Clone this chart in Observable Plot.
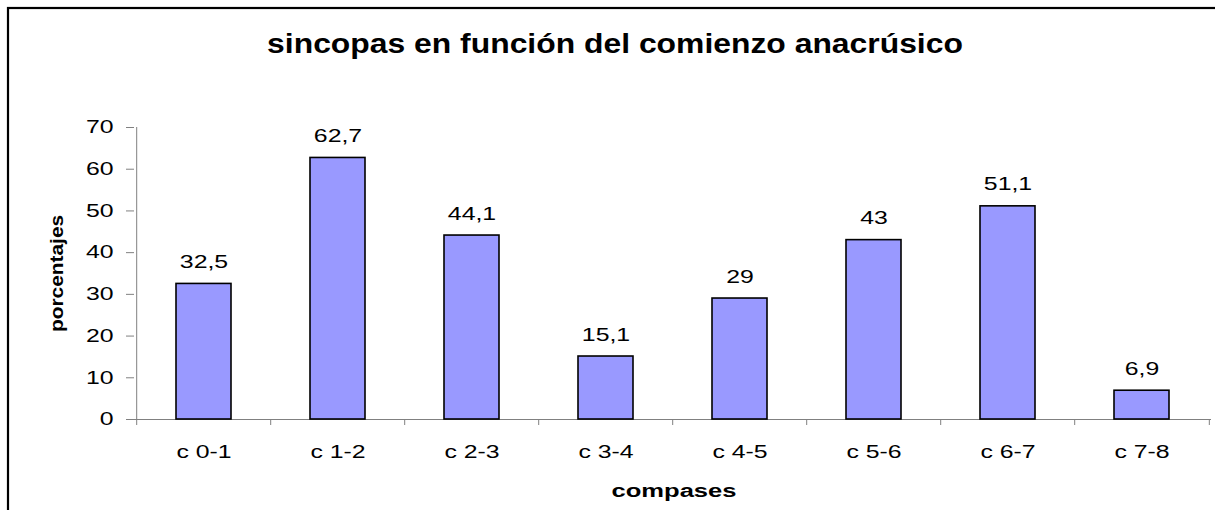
<!DOCTYPE html>
<html>
<head>
<meta charset="utf-8">
<script src="https://cdn.jsdelivr.net/npm/d3@7"></script>
<script src="https://cdn.jsdelivr.net/npm/@observablehq/plot@0.6"></script>
<style>
  html, body { margin: 0; padding: 0; background: #fff; }
  #chart { width: 1215px; height: 510px; overflow: hidden; }
  [aria-label="y-axis tick"] { stroke: #808080; }
</style>
</head>
<body>
<div id="chart"></div>
<script>
const categories = ["c 0-1", "c 1-2", "c 2-3", "c 3-4", "c 4-5", "c 5-6", "c 6-7", "c 7-8"];
const values = [32.5, 62.7, 44.1, 15.1, 29, 43, 51.1, 6.9];
const yTicks = [0, 10, 20, 30, 40, 50, 60, 70];
const title = "sincopas en función del comienzo anacrúsico";
const xTitle = "compases";
const yTitle = "porcentajes";

const width = 1215, height = 510;
const ml = 134, mr = 4, mt = 127, mb = 91;
const yMax = 70;
const step = (width - ml - mr) / categories.length;
const pxPerUnit = (height - mt - mb) / yMax;
const tickLen = 6;
const gray = "#808080";
const fmt = d => String(d).replace(".", ",");
const rows = categories.map((c, i) => ({cat: c, val: values[i]}));

const plot = Plot.plot({
  width, height,
  marginLeft: ml, marginRight: mr, marginTop: mt, marginBottom: mb,
  style: {fontFamily: "'Liberation Sans', Arial, sans-serif", fontSize: "18px", background: "white", color: "black", overflow: "visible"},
  x: {domain: categories, paddingInner: 0.592, paddingOuter: 0.296, label: null},
  y: {domain: [0, yMax], label: null},
  marks: [
    Plot.ruleY([0], {stroke: gray}),
    Plot.ruleX([categories[0]], {x: d => d, y1: 0, y2: yMax, dx: -step / 2, stroke: gray}),
    Plot.ruleX(categories, {x: d => d, y1: 0, y2: -tickLen / pxPerUnit, dx: -step / 2, stroke: gray}),
    Plot.ruleX([categories[categories.length - 1]], {x: d => d, y1: 0, y2: -tickLen / pxPerUnit, dx: step / 2, stroke: gray}),
    Plot.axisY({ticks: yTicks, tickSize: 8, tickPadding: 13, tickFormat: d => d, label: null, fontSize: 18}),
    Plot.axisX({tickSize: 0, tickPadding: 26, label: null, fontSize: 18}),
    Plot.barY(rows, {x: "cat", y: "val", fill: "#9999FF", stroke: "black", strokeWidth: 1.6}),
    Plot.text(rows, {x: "cat", y: "val", text: d => fmt(d.val), dy: -16, lineAnchor: "bottom", fontSize: 18, fill: "black"}),
    Plot.text([title], {frameAnchor: "top", dx: -58, dy: -75, lineAnchor: "bottom", fontSize: 27, fontWeight: "bold", className: "ttl"}),
    Plot.text([xTitle], {frameAnchor: "bottom", dx: 1, dy: 77, lineAnchor: "bottom", fontSize: 18, fontWeight: "bold", className: "xlab"}),
    Plot.text([yTitle], {frameAnchor: "left", textAnchor: "middle", rotate: -90, dx: -72, lineAnchor: "bottom", fontSize: 18, fontWeight: "bold", className: "ylab"})
  ]
});

document.getElementById("chart").appendChild(plot);

// outer frame of the chart area
d3.select(plot).append("rect")
  .attr("x", 8).attr("y", 8)
  .attr("width", width).attr("height", height)
  .attr("fill", "none").attr("stroke", "black").attr("stroke-width", 2.2);

// horizontal stretch of the text, as in the reference rendering
const factors = {ttl: 1.18, xlab: 1.42, ylab: 1.16};
plot.querySelectorAll("text").forEach(t => {
  let f = 1.38;
  for (const k in factors) if (t.closest("." + k)) f = factors[k];
  const L = t.getComputedTextLength();
  if (L > 0) {
    t.setAttribute("textLength", (L * f).toFixed(1));
    t.setAttribute("lengthAdjust", "spacingAndGlyphs");
  }
});
</script>
</body>
</html>
